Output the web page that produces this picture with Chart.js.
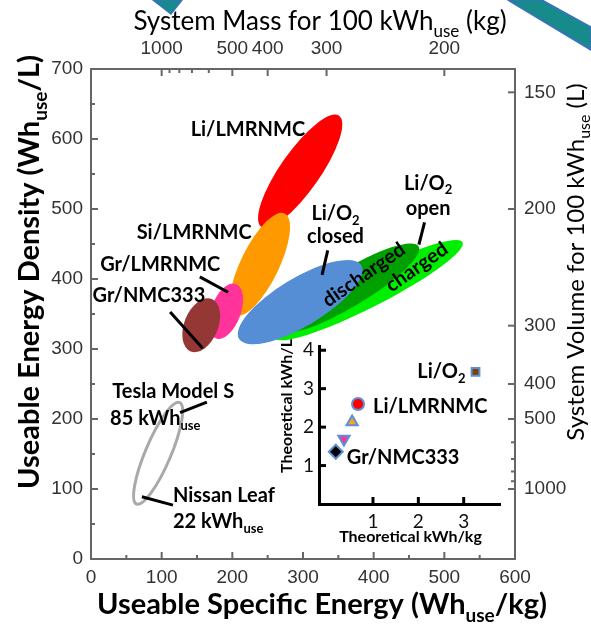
<!DOCTYPE html>
<html>
<head>
<meta charset="utf-8">
<script src="https://cdn.jsdelivr.net/npm/chart.js"></script>
<style>
  html, body { margin: 0; padding: 0; background: #fff; }
  #wrap { position: relative; width: 591px; height: 627px; overflow: hidden; }
  #main { position: absolute; left: 0; top: 0; }
  #inset { position: absolute; left: 240px; top: 330px; }
  #deco { position: absolute; left: 0; top: 0; pointer-events: none; }
</style>
</head>
<body>
<div id="wrap">
  <canvas id="main" width="591" height="627"></canvas>
  <canvas id="inset" width="280" height="230"></canvas>
  <svg id="deco" width="591" height="627">
    <polygon points="153,0 182,0 171,14" fill="#178a8c" stroke="#3d6fc0" stroke-width="1.5"/>
    <polygon points="508,0 542,0 591,27 591,50" fill="#178a8c" stroke="#3d6fc0" stroke-width="1.5"/>
  </svg>
</div>
<script>
// battery systems, in drawing order (Wh_use/kg, Wh_use/L)
const cells = ['Li/LMRNMC', 'Si/LMRNMC', 'Gr/LMRNMC', 'Gr/NMC333',
               'Li/O2 open charged', 'Li/O2 open discharged', 'Li/O2 closed'];
const centreKg = [296, 239, 191, 156, 393, 365, 296];
const centreL  = [554, 421, 354, 334, 384, 387, 367];
const spreadMajor = [96, 80, 41, 40, 149, 115, 101];
const spreadMinor = [28, 27, 21, 24, 24, 26, 34];
const tiltDeg = [55, 64, 70, 68, 27, 31, 31];
const cellColours = ['#ff0000', '#ff9900', '#ff3399', '#953735', '#00ee00', '#00a000', '#558ed5'];

// today's cars (Nissan Leaf .. Tesla Model S)
const evKg = [95], evL = [151], evMajor = [78], evMinor = [18], evTilt = [67];

// inset: theoretical values
const theoNames = ['Li/O2', 'Li/LMRNMC', 'Si/LMRNMC', 'Gr/LMRNMC', 'Gr/NMC333'];
const theoKg = [3.26, 0.67, 0.54, 0.36, 0.18];
const theoL  = [3.44, 2.60, 2.13, 1.69, 1.36];

// secondary axes
const massTicks = [1000, 900, 800, 700, 600, 500, 400, 300, 200];
const massLabels = [1000, 500, 400, 300, 200];
const volTicks = [1000, 900, 800, 700, 600, 500, 400, 300, 200, 150];
const volLabels = [1000, 500, 400, 300, 200, 150];
const insetTicksX = [1, 2, 3];
const insetTicksY = [1, 2, 3, 4];

const notes = [
  { t: [['Li/LMRNMC']], x: 222, y: 613 },
  { t: [['Si/LMRNMC']], x: 146, y: 467 },
  { t: [['Gr/LMRNMC']], x: 98, y: 420 },
  { t: [['Gr/NMC333']], x: 82, y: 376 },
  { t: [['Li/O'], ['2', 1]], x: 346, y: 494 },
  { t: [['closed']], x: 346, y: 460 },
  { t: [['Li/O'], ['2', 1]], x: 477, y: 537 },
  { t: [['open']], x: 477, y: 501 },
  { t: [['discharged']], x: 386, y: 406, rot: -35 },
  { t: [['charged']], x: 461, y: 417, rot: -35 },
  { t: [['Tesla Model S']], x: 30, y: 239, align: 'left' },
  { t: [['85 kWh'], ['use', 1]], x: 27, y: 201, align: 'left' },
  { t: [['Nissan Leaf']], x: 116, y: 91, align: 'left' },
  { t: [['22 kWh'], ['use', 1]], x: 116, y: 53, align: 'left' }
];
const leaders = [
  [154, 403, 194, 381], [112, 353, 158, 301], [335, 441, 327, 406],
  [472, 481, 464, 449], [164, 224, 126, 209], [72, 89, 116, 77]
];

const FAM = 'Lato';
function rich(ctx, parts, x, y, size, weight, align, angle) {
  ctx.save();
  ctx.translate(x, y);
  if (angle) ctx.rotate(angle * Math.PI / 180);
  const f = sub => weight + ' ' + (sub ? Math.round(size * 0.65) : size) + 'px ' + FAM;
  let w = 0;
  parts.forEach(p => { ctx.font = f(p[1]); w += ctx.measureText(p[0]).width; });
  let cx = align === 'left' ? 0 : align === 'right' ? -w : -w / 2;
  ctx.textBaseline = 'middle';
  ctx.textAlign = 'left';
  ctx.fillStyle = '#000';
  parts.forEach(p => {
    ctx.font = f(p[1]);
    ctx.fillText(p[0], cx, p[1] ? size * 0.36 : 0);
    cx += ctx.measureText(p[0]).width;
  });
  ctx.restore();
}

const inwardTicks = {
  id: 'inwardTicks',
  afterDraw(chart, args, o) {
    const ctx = chart.ctx;
    ctx.save();
    ctx.strokeStyle = o.color;
    ctx.lineWidth = o.width;
    Object.values(chart.scales).forEach(s => {
      s.ticks.forEach(t => {
        const len = (t.label !== '' && t.label != null) ? o.major : o.minor;
        const p = s.getPixelForValue(t.value);
        ctx.beginPath();
        if (s.position === 'bottom') { ctx.moveTo(p, s.top); ctx.lineTo(p, s.top - len); }
        else if (s.position === 'top') { ctx.moveTo(p, s.bottom); ctx.lineTo(p, s.bottom + len); }
        else if (s.position === 'left') { ctx.moveTo(s.right, p); ctx.lineTo(s.right + len, p); }
        else { ctx.moveTo(s.left, p); ctx.lineTo(s.left - len, p); }
        ctx.stroke();
      });
    });
    ctx.restore();
  }
};

const regions = {
  id: 'regions',
  beforeDatasetsDraw(chart) {
    const { ctx, scales: { x, y } } = chart;
    const k = (x.getPixelForValue(100) - x.getPixelForValue(0)) / 100;
    ctx.save();
    cells.forEach((c, i) => {
      ctx.beginPath();
      ctx.ellipse(x.getPixelForValue(centreKg[i]), y.getPixelForValue(centreL[i]),
        spreadMajor[i] * k, spreadMinor[i] * k, -tiltDeg[i] * Math.PI / 180, 0, 2 * Math.PI);
      ctx.fillStyle = cellColours[i];
      ctx.fill();
    });
    evKg.forEach((v, i) => {
      ctx.beginPath();
      ctx.ellipse(x.getPixelForValue(v), y.getPixelForValue(evL[i]),
        evMajor[i] * k, evMinor[i] * k, -evTilt[i] * Math.PI / 180, 0, 2 * Math.PI);
      ctx.strokeStyle = '#a9a9a9';
      ctx.lineWidth = 3;
      ctx.stroke();
    });
    ctx.restore();
  },
  afterDatasetsDraw(chart) {
    const { ctx, scales: { x, y }, chartArea: a } = chart;
    ctx.save();
    ctx.strokeStyle = '#000';
    ctx.lineWidth = 3;
    leaders.forEach(l => {
      ctx.beginPath();
      ctx.moveTo(x.getPixelForValue(l[0]), y.getPixelForValue(l[1]));
      ctx.lineTo(x.getPixelForValue(l[2]), y.getPixelForValue(l[3]));
      ctx.stroke();
    });
    notes.forEach(n => rich(ctx, n.t, x.getPixelForValue(n.x), y.getPixelForValue(n.y), 20, 'bold', n.align, n.rot));
    // axis titles
    rich(ctx, [['System Mass for 100 kWh'], ['use', 1], [' (kg)']], (a.left + a.right) / 2 + 17, 22, 26, 'normal', 'center');
    rich(ctx, [['System Volume for 100 kWh'], ['use', 1], [' (L)']], 576, 262, 24, 'normal', 'center', -90);
    rich(ctx, [['Useable Energy Density (Wh'], ['use', 1], ['/L)']], 30, 272, 29, 'bold', 'center', -90);
    rich(ctx, [['Useable Specific Energy (Wh'], ['use', 1], ['/kg)']], 322, 605, 29, 'bold', 'center');
    ctx.restore();
  }
};

const tickFont = { family: 'Liberation Sans', size: 19 };
const axisBase = {
  type: 'linear',
  grid: { display: false, drawTicks: false },
  border: { color: '#666', width: 2 },
  ticks: { font: tickFont, color: '#333', autoSkip: false, maxRotation: 0 }
};

new Chart(document.getElementById('main'), {
  type: 'scatter',
  data: { datasets: [{ data: cells.map((c, i) => ({ x: centreKg[i], y: centreL[i] })), pointRadius: 0 }] },
  options: {
    responsive: false,
    animation: false,
    layout: { padding: 0 },
    plugins: {
      legend: { display: false },
      tooltip: { enabled: false },
      inwardTicks: { color: '#666', width: 2, major: 7, minor: 4 }
    },
    scales: {
      x: { ...axisBase, position: 'bottom', min: 0, max: 600,
        ticks: { ...axisBase.ticks, stepSize: 50, padding: 7, callback: v => v % 100 === 0 ? v : '' },
        afterFit: s => { s.height = 68; } },
      y: { ...axisBase, position: 'left', min: 0, max: 700,
        ticks: { ...axisBase.ticks, stepSize: 50, padding: 8, callback: v => v % 100 === 0 ? v : '' },
        afterFit: s => { s.width = 91; } },
      top: { ...axisBase, position: 'top', min: 0, max: 600,
        afterBuildTicks: s => { s.ticks = massTicks.map(m => ({ value: 100000 / m })); },
        ticks: { ...axisBase.ticks, padding: 9, callback: v => { const m = Math.round(100000 / v); return massLabels.includes(m) ? m : ''; } },
        afterFit: s => { s.height = 69; } },
      right: { ...axisBase, position: 'right', min: 0, max: 700,
        afterBuildTicks: s => { s.ticks = volTicks.map(m => ({ value: 100000 / m })); },
        ticks: { ...axisBase.ticks, padding: 9, callback: v => { const m = Math.round(100000 / v); return volLabels.includes(m) ? m : ''; } },
        afterFit: s => { s.width = 76; } }
    }
  },
  plugins: [regions, inwardTicks]
});

// inset
const markStyle = ['rect', 'circle', 'triangle', 'triangle', 'rectRot'];
const markFill = ['#7f3f00', '#ff0000', '#f5a623', '#ff3399', '#000000'];
const markSize = [5.5, 6, 6.5, 6.5, 7];
const markRot = [0, 0, 0, 180, 0];
const insetNotes = [
  { i: 0, t: [['Li/O'], ['2', 1]], dx: -10, dy: 0, align: 'right' },
  { i: 1, t: [['Li/LMRNMC']], dx: 15, dy: 2, align: 'left' },
  { i: 4, t: [['Gr/NMC333']], dx: 11, dy: 6, align: 'left' }
];

const insetText = {
  id: 'insetText',
  afterDatasetsDraw(chart) {
    const { ctx, scales: { x, y }, chartArea: a } = chart;
    insetNotes.forEach(n => rich(ctx, n.t, x.getPixelForValue(theoKg[n.i]) + n.dx,
      y.getPixelForValue(theoL[n.i]) + n.dy, 20, 'bold', n.align));
    rich(ctx, [['Theoretical kWh/kg']], (a.left + a.right) / 2 + 1, 207, 16, 'bold', 'center');
    rich(ctx, [['Theoretical kWh/L']], 47, 76, 16, 'bold', 'center', -90);
  }
};

const insetAxis = {
  type: 'linear',
  grid: { display: false, drawTicks: false },
  border: { color: '#000', width: 3 },
  ticks: { font: { family: FAM, size: 19 }, color: '#111', autoSkip: false, maxRotation: 0 }
};

new Chart(document.getElementById('inset'), {
  type: 'scatter',
  data: {
    datasets: theoNames.map((n, i) => ({
      label: n,
      data: [{ x: theoKg[i], y: theoL[i] }],
      pointStyle: markStyle[i],
      pointRadius: markSize[i],
      pointRotation: markRot[i],
      backgroundColor: markFill[i],
      borderColor: '#5b8fd6',
      borderWidth: 2
    }))
  },
  options: {
    responsive: false,
    animation: false,
    layout: { padding: { top: 15, right: 20, left: 0, bottom: 0 } },
    plugins: {
      legend: { display: false },
      tooltip: { enabled: false },
      inwardTicks: { color: '#000', width: 3, major: 7, minor: 7 }
    },
    scales: {
      x: { ...insetAxis, position: 'bottom', min: -0.19, max: 3.8,
        afterBuildTicks: s => { s.ticks = insetTicksX.map(v => ({ value: v })); },
        ticks: { ...insetAxis.ticks, padding: 6 },
        afterFit: s => { s.height = 56; } },
      y: { ...insetAxis, position: 'left', min: 0, max: 4.1,
        afterBuildTicks: s => { s.ticks = insetTicksY.map(v => ({ value: v })); },
        ticks: { ...insetAxis.ticks, padding: 5 },
        afterFit: s => { s.width = 79; } }
    }
  },
  plugins: [insetText, inwardTicks]
});
</script>
</body>
</html>
